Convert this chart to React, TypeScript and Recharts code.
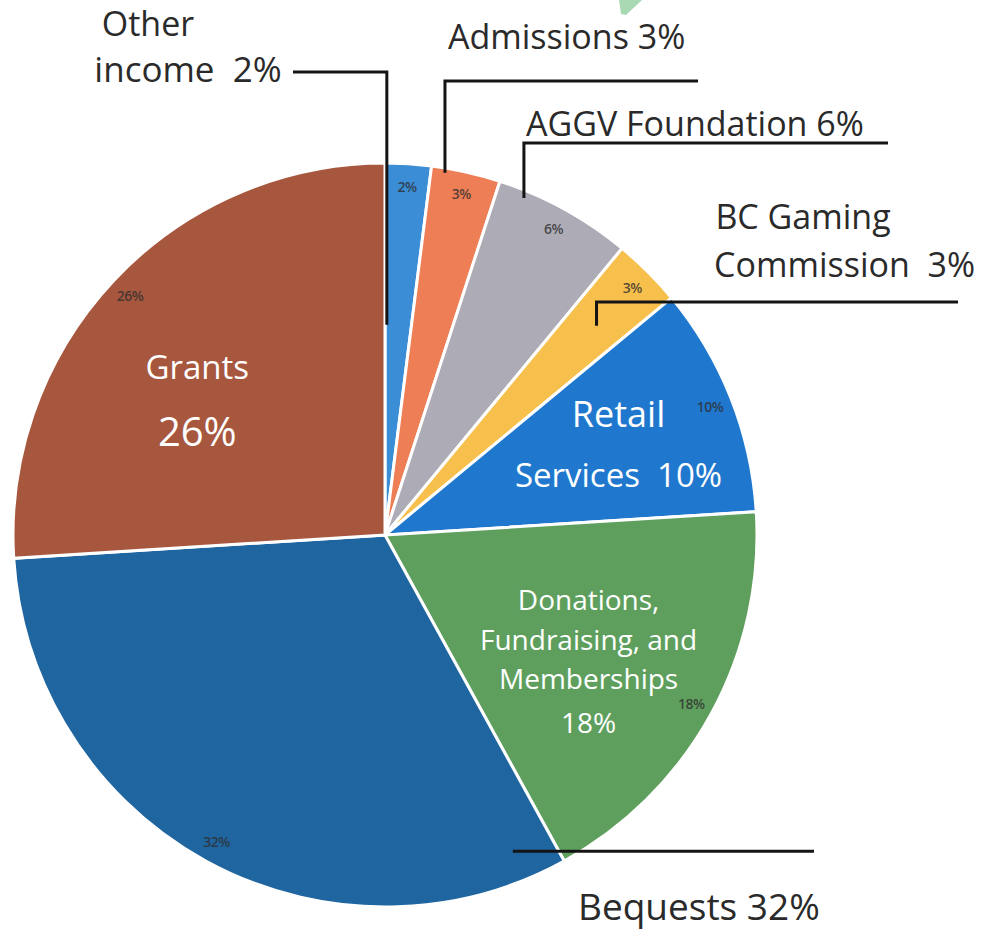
import { PieChart, Pie, Cell } from 'recharts';

const categories = [
  'Other income',
  'Admissions',
  'AGGV Foundation',
  'BC Gaming Commission',
  'Retail Services',
  'Donations, Fundraising, and Memberships',
  'Bequests',
  'Grants',
];
const shares = [2, 3, 6, 3, 10, 18, 32, 26];
const sliceColors = ['#3B8DD6', '#EE7E55', '#ACABB6', '#F7BF4C', '#1F78CE', '#5E9F5E', '#1F65A0', '#A8573F'];

// white text drawn inside the big slices
const innerLabelLines: (string[] | null)[] = [
  null,
  null,
  null,
  null,
  ['Retail', 'Services  10%'],
  ['Donations,', 'Fundraising, and', 'Memberships', '18%'],
  null,
  ['Grants', '26%'],
];

// callout text outside the pie
const outerLabelLines: (string[] | null)[] = [
  ['Other', 'income  2%'],
  ['Admissions 3%'],
  ['AGGV Foundation 6%'],
  ['BC Gaming', 'Commission  3%'],
  null,
  null,
  ['Bequests 32%'],
  null,
];

const data = categories.map((name, i) => ({ name, value: shares[i] }));

const FONT = "'Open Sans', 'Noto Sans', sans-serif";
const RAD = Math.PI / 180;
const CX = 385;
const CY = 535;
const R = 372;

// layout for the inner white labels: nudge from the slice centroid, baselines and sizes
const innerLayout: Record<number, { dx: number; baselines: number[]; sizes: number[] }> = {
  4: { dx: 26, baselines: [-26, 34], sizes: [36, 33] },
  5: { dx: 8, baselines: [-33, 7, 46, 90], sizes: [28, 28, 28, 28] },
  7: { dx: -25, baselines: [-3, 64], sizes: [33, 40] },
};

type TextPos = { x: number; y: number; anchor: 'start' | 'middle' | 'end'; size?: number };
type Callout = { nudge: number; rf: number; elbowY: number | null; endX: number; text: TextPos[] };

const calloutLayout: (Callout | null)[] = [
  { nudge: -3.1, rf: 0.565, elbowY: 72, endX: 293, text: [{ x: 148, y: 36, anchor: 'middle', size: 34 }, { x: 188, y: 82, anchor: 'middle', size: 35 }] },
  { nudge: -3.2, rf: 0.987, elbowY: 81, endX: 698, text: [{ x: 448, y: 49, anchor: 'start' }] },
  { nudge: -6.4, rf: 0.98, elbowY: 143, endX: 888, text: [{ x: 526, y: 136, anchor: 'start' }] },
  { nudge: 0.3, rf: 0.8, elbowY: 302, endX: 958, text: [{ x: 803, y: 229, anchor: 'middle' }, { x: 975, y: 277, anchor: 'end' }] },
  null,
  null,
  { nudge: -50.8, rf: 0.917, elbowY: null, endX: 814, text: [{ x: 578, y: 920, anchor: 'start', size: 37 }] },
  null,
];

function polar(cx: number, cy: number, r: number, cwDeg: number) {
  return [cx + r * Math.sin(cwDeg * RAD), cy - r * Math.cos(cwDeg * RAD)];
}

function renderLabel(props: any) {
  const { cx, cy, midAngle, outerRadius, index, value } = props;
  const cw = 90 - midAngle;
  const [sx, sy] = polar(cx, cy, outerRadius * 0.94, cw);

  const inner = innerLabelLines[index];
  const il = innerLayout[index];
  let innerEl = null;
  if (inner && il) {
    const [ax, ay] = polar(cx, cy, outerRadius * 0.6, cw);
    innerEl = inner.map((t, k) => (
      <text
        key={`in-${k}`}
        x={ax + il.dx}
        y={ay + il.baselines[k]}
        textAnchor="middle"
        fill="#FFFFFF"
        fontSize={il.sizes[k]}
        fontFamily={FONT}
        style={{ whiteSpace: 'pre' }}
      >
        {t}
      </text>
    ));
  }

  const outer = outerLabelLines[index];
  const co = calloutLayout[index];
  let outerEl = null;
  if (outer && co) {
    const [tx, ty] = polar(cx, cy, outerRadius * co.rf, cw + co.nudge);
    const ey = co.elbowY ?? ty;
    const d = `M${tx},${ty} L${tx},${ey} L${co.endX},${ey}`;
    outerEl = (
      <g>
        <path d={d} stroke="#141414" strokeWidth={3} fill="none" />
        {outer.map((t, k) => (
          <text
            key={`out-${k}`}
            x={co.text[k].x}
            y={co.text[k].y}
            textAnchor={co.text[k].anchor}
            fill="#2A2A2A"
            fontSize={co.text[k].size ?? 34}
            fontFamily={FONT}
            style={{ whiteSpace: 'pre' }}
          >
            {t}
          </text>
        ))}
      </g>
    );
  }

  return (
    <g>
      <text
        x={sx}
        y={sy}
        textAnchor="middle"
        dominantBaseline="central"
        fill="#2E2E2E"
        fillOpacity={0.8}
        fontSize={14}
        fontWeight={600}
        fontFamily={FONT}
        letterSpacing={-0.5}
      >
        {`${value}%`}
      </text>
      {innerEl}
      {outerEl}
    </g>
  );
}

export default function App() {
  return (
    <div style={{ position: 'absolute', left: 0, top: 0, width: 990, height: 930, background: '#FFFFFF' }}>
      <PieChart width={990} height={930} margin={{ top: 0, right: 0, bottom: 0, left: 0 }}>
        <Pie
          data={data}
          dataKey="value"
          nameKey="name"
          cx={CX}
          cy={CY}
          outerRadius={R}
          startAngle={90}
          endAngle={-270}
          stroke="#FFFFFF"
          strokeWidth={3}
          label={renderLabel}
          labelLine={false}
          isAnimationActive={false}
        >
          {data.map((entry, index) => (
            <Cell key={`cell-${index}`} fill={sliceColors[index]} />
          ))}
        </Pie>
      </PieChart>
      <svg width={990} height={930} style={{ position: 'absolute', left: 0, top: 0, pointerEvents: 'none' }}>
        <polygon points="619,0 642,0 626,15 621,14" fill="#A9D9B2" />
      </svg>
    </div>
  );
}
